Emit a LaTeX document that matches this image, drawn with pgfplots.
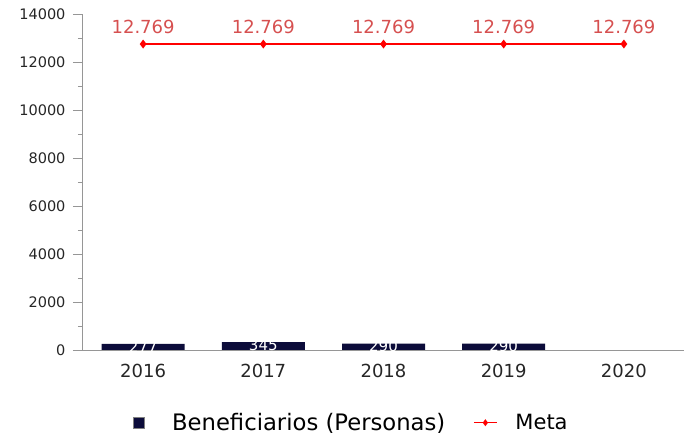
\documentclass[border=0pt]{standalone}
\usepackage{fontspec}
\setmainfont{DejaVu Sans}
\usepackage{pgfplots}
\pgfplotsset{compat=1.18}
\definecolor{navy}{RGB}{12,12,58}
\definecolor{metared}{RGB}{255,0,0}
\definecolor{metalbl}{RGB}{214,80,80}
\definecolor{axisgray}{RGB}{150,150,150}
\begin{document}
\begin{tikzpicture}
\begin{axis}[
  name=ax, anchor=south west,
  scale only axis, width=601pt, height=336pt,
  xmin=-0.5, xmax=4.5, ymin=0, ymax=14000,
  axis lines*=left,
  axis on top,
  axis line style={axisgray, line width=1pt},
  xtick={0,1,2,3,4},
  xticklabels={2016,2017,2018,2019,2020},
  x tick style={draw=none},
  ytick={0,2000,...,14000},
  minor y tick num=1,
  y tick style={axisgray, line width=1pt},
  tick align=outside,
  major tick length=10pt,
  minor tick length=5pt,
  scaled y ticks=false,
  /pgf/number format/assume math mode=true,
  /pgf/number format/1000 sep={},
  y tick label style={font=\fontsize{14.5}{17}\selectfont, text=black!85, xshift=-4pt},
  x tick label style={font=\fontsize{18}{21}\selectfont, text=black!85},
  legend style={at={(0.4466,-0.215)}, anchor=center, draw=none,
    font=\fontsize{22}{26}\selectfont, legend columns=2,
    /tikz/column 1/.style={column sep=26pt},
    /tikz/column 2/.style={column sep=26pt},
    /tikz/column 3/.style={column sep=16pt}},
]
\addplot[ybar, bar width=83pt, fill=navy, draw=none,
  nodes near coords,
  every node near coord/.append style={white, font=\fontsize{15}{18}\selectfont, anchor=center, yshift=-3pt},
  legend image code/.code={\fill[navy, draw=gray] (0pt,-5.5pt) rectangle (10.5pt,5.5pt);}]
  coordinates {(0,277) (1,345) (2,290) (3,290)};
\addlegendentry{\fontsize{22.7}{26}\selectfont Beneficiarios (Personas)}
\addplot[color=metared, draw=metared, line width=1.2pt, mark=diamond*, mark size=3.5pt,
  mark options={draw=metared, fill=metared},
  nodes near coords={12.769},
  every node near coord/.append style={metalbl, font=\fontsize{18}{21}\selectfont, anchor=south, inner sep=0pt, yshift=10pt},
  legend image code/.code={\draw[metared, line width=1.2pt, mark=diamond*, mark size=2.5pt, mark repeat=2, mark phase=2] plot coordinates {(0pt,0pt) (11.5pt,0pt) (23pt,0pt)};}]
  coordinates {(0,12769) (1,12769) (2,12769) (3,12769) (4,12769)};
\addlegendentry{\fontsize{21}{26}\selectfont Meta}
\end{axis}
\pgfresetboundingbox
\useasboundingbox ([shift={(-83pt,-84.5pt)}]ax.south west) rectangle ([shift={(605pt,350.5pt)}]ax.south west);
\end{tikzpicture}
\end{document}
